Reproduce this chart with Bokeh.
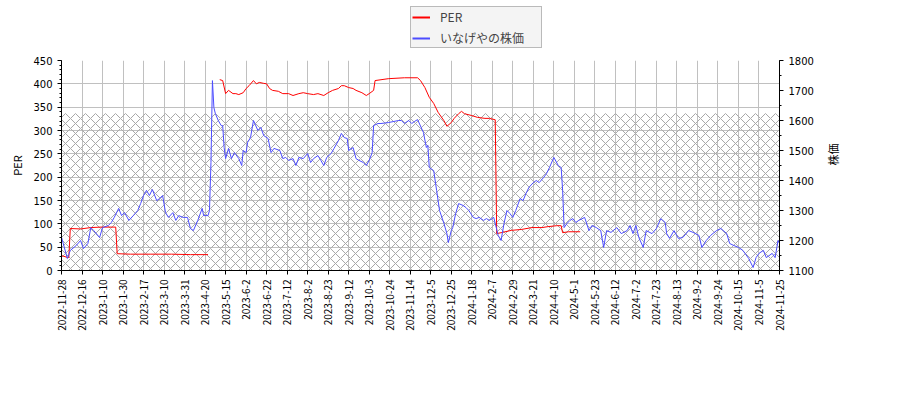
import numpy as np

from bokeh.embed import file_html
from bokeh.layouts import column
from bokeh.models import (FixedTicker, Legend, LegendItem, LinearAxis, Range1d,
                          SingleIntervalTicker)
from bokeh.plotting import figure
from bokeh.resources import INLINE

# x axis is a trading-day index, a label every 14 trading days
tick_labels = [
    "2022-11-28", "2022-12-16", "2023-1-10", "2023-1-30", "2023-2-17", "2023-3-10",
    "2023-3-31", "2023-4-20", "2023-5-15", "2023-6-2", "2023-6-22", "2023-7-12",
    "2023-8-2", "2023-8-23", "2023-9-12", "2023-10-3", "2023-10-24", "2023-11-14",
    "2023-12-5", "2023-12-25", "2024-1-18", "2024-2-7", "2024-2-29", "2024-3-21",
    "2024-4-10", "2024-5-1", "2024-5-23", "2024-6-12", "2024-7-2", "2024-7-23",
    "2024-8-13", "2024-9-2", "2024-9-24", "2024-10-15", "2024-11-5", "2024-11-25",
]
tick_step = 14

# stock price (right axis)
price_day = [
    0, 4, 6, 10, 13, 15, 18, 20, 22, 26, 28, 32, 34, 36, 39, 41, 43, 46, 49, 52,
    54, 56, 58, 60, 62, 65, 67, 69, 71, 73, 76, 78, 80, 83, 86, 88, 90, 93, 96, 97,
    100, 101, 102, 103, 104, 105, 107, 109, 110, 111, 112, 114, 116, 118, 121, 123, 124, 126, 127, 129,
    131, 134, 136, 138, 141, 143, 145, 149, 151, 153, 155, 158, 160, 162, 165, 168, 170, 172, 175, 177,
    179, 181, 184, 186, 189, 191, 193, 195, 196, 199, 201, 203, 206, 208, 210, 212, 213, 216, 218, 223,
    230, 232, 234, 237, 239, 241, 243, 247, 249, 250, 251, 254, 256, 258, 261, 263, 264, 266, 267, 269,
    271, 274, 276, 278, 281, 283, 285, 288, 290, 292, 295, 296, 298, 300, 302, 304, 306, 308, 310, 313,
    315, 317, 319, 322, 324, 326, 329, 331, 333, 336, 339, 341, 342, 343, 345, 347, 349, 351, 353, 357,
    360, 362, 365, 368, 370, 372, 375, 379, 382, 386, 388, 390, 392, 394, 397, 399, 403, 406, 409, 412,
    413, 415, 418, 421, 424, 428, 431, 435, 437, 440, 443, 447, 450, 454, 456, 459, 462, 465, 469, 472,
    474, 476, 479, 481, 485, 487, 489, 490,
]
price = [
    1211, 1140, 1167, 1183, 1200, 1173, 1190, 1243, 1233, 1210, 1243, 1250, 1260, 1277, 1307, 1283, 1293, 1267, 1283, 1300,
    1323, 1350, 1367, 1350, 1370, 1333, 1340, 1350, 1293, 1277, 1293, 1267, 1283, 1277, 1277, 1240, 1233, 1267, 1307, 1283,
    1283, 1300, 1460, 1733, 1643, 1623, 1600, 1583, 1583, 1510, 1473, 1507, 1473, 1493, 1473, 1450, 1500, 1493, 1527, 1543,
    1600, 1567, 1577, 1550, 1540, 1493, 1507, 1500, 1473, 1477, 1467, 1473, 1450, 1477, 1473, 1490, 1460, 1473, 1483, 1467,
    1450, 1477, 1490, 1507, 1533, 1557, 1543, 1540, 1500, 1510, 1473, 1467, 1460, 1450, 1467, 1493, 1583, 1590, 1590, 1593,
    1600, 1600, 1590, 1600, 1590, 1597, 1603, 1560, 1510, 1517, 1443, 1433, 1367, 1300, 1257, 1223, 1193, 1233, 1243, 1290,
    1323, 1317, 1310, 1300, 1277, 1273, 1277, 1267, 1273, 1267, 1277, 1257, 1217, 1200, 1257, 1300, 1290, 1277, 1300, 1340,
    1333, 1357, 1377, 1393, 1400, 1393, 1410, 1423, 1443, 1477, 1450, 1443, 1367, 1243, 1257, 1267, 1273, 1260, 1267, 1277,
    1233, 1250, 1243, 1233, 1177, 1233, 1227, 1243, 1223, 1233, 1250, 1223, 1250, 1210, 1177, 1233, 1223, 1240, 1273, 1260,
    1223, 1207, 1233, 1207, 1210, 1233, 1227, 1217, 1177, 1200, 1217, 1233, 1240, 1223, 1190, 1183, 1177, 1167, 1140, 1110,
    1143, 1157, 1167, 1143, 1157, 1143, 1200, 1190,
]

# PER (left axis), gap where no value is published
nan = float("nan")
per_day = [
    0, 4, 5, 6, 13, 20, 27, 37, 38, 47, 61, 75, 88, 100, 104,
    108, 110, 112, 114, 117, 119, 121, 124, 126, 128, 131, 133, 135, 138, 140,
    142, 144, 148, 151, 155, 158, 162, 165, 168, 172, 175, 179, 182, 185, 189,
    191, 193, 196, 199, 201, 205, 208, 210, 213, 214, 223, 234, 243, 245, 248,
    251, 254, 257, 261, 263, 266, 268, 271, 273, 275, 280, 284, 289, 292, 296,
    297, 300, 307, 314, 321, 328, 332, 338, 341, 342, 346, 354,
]
per = [
    32, 28, 28, 90, 89, 92, 93, 93, 36, 35, 35, 35, 34, 34, nan,
    409, 407, 379, 386, 379, 379, 377, 381, 390, 396, 407, 400, 403, 401, 400,
    390, 386, 384, 379, 379, 375, 379, 381, 379, 377, 379, 375, 381, 386, 390,
    396, 396, 392, 390, 386, 381, 375, 379, 386, 407, 411, 413, 413, 407, 392,
    371, 358, 339, 321, 309, 317, 326, 336, 341, 336, 332, 328, 326, 326, 323,
    79, 81, 86, 88, 92, 92, 94, 96, 96, 81, 83, 83,
]

hatch_top = 337

per_color = "red"
price_color = "#4c4cff"
last_day = tick_step * (len(tick_labels) - 1)

p = figure(width=884, height=336, output_backend="svg", toolbar_location=None,
           x_range=Range1d(0, last_day), y_range=Range1d(0, 450),
           min_border_left=61, min_border_right=105, min_border_top=12,
           min_border_bottom=114, outline_line_color=None,
           background_fill_color="white")
p.extra_y_ranges = {"price": Range1d(1100, 1800)}

# hatched band
p.quad(left=0, right=last_day, bottom=0, top=hatch_top, fill_color=None,
       line_color=None, hatch_pattern="diagonal_cross", hatch_color="#a8a8a8",
       hatch_scale=10, hatch_weight=1)

p.line(per_day, per, line_color=per_color, line_width=1)
p.line(price_day, price, line_color=price_color, line_width=1,
       y_range_name="price")

# axes
ticks = [i * tick_step for i in range(len(tick_labels))]
p.xaxis.ticker = FixedTicker(ticks=ticks)
p.xaxis.major_label_overrides = {t: lbl for t, lbl in zip(ticks, tick_labels)}
p.xaxis.major_label_orientation = np.pi / 2
p.xaxis.major_label_text_font = "Noto Sans CJK JP"
p.xaxis.major_label_text_font_size = "10px"

p.yaxis.ticker = SingleIntervalTicker(interval=50, num_minor_ticks=5)
p.yaxis.axis_label = "PER"

right = LinearAxis(y_range_name="price", axis_label="株価",
                   ticker=SingleIntervalTicker(interval=100, num_minor_ticks=2))
p.add_layout(right, "right")
right.axis_label_orientation = np.pi / 2
right.axis_label_standoff = 16

for ax in p.axis:
    ax.axis_line_color = "black"
    ax.major_tick_line_color = "black"
    ax.minor_tick_line_color = "black"
    ax.major_tick_in = 0
    ax.major_tick_out = 4
    ax.minor_tick_in = 0
    ax.minor_tick_out = 2
    ax.major_label_text_color = "black"
    ax.axis_label_text_font = "Noto Sans CJK JP"
    ax.axis_label_text_font_style = "normal"
    ax.axis_label_text_font_size = "11px"
    ax.axis_label_text_color = "black"
for ax in p.yaxis:
    ax.major_label_text_font = "DejaVu Sans"
    ax.major_label_text_font_size = "10px"
p.xaxis.minor_tick_line_color = None

p.xgrid.grid_line_color = "#c0c0c0"
p.ygrid.grid_line_color = "#c0c0c0"

# legend strip above the chart (its frame lines up with the chart's frame)
lg = figure(width=884, height=48, output_backend="svg", toolbar_location=None,
            x_axis_type=None, y_axis_type=None, min_border=0,
            outline_line_color=None, x_range=(0, 1), y_range=(0, 1))
lg.xgrid.visible = False
lg.ygrid.visible = False
k_per = lg.line([2, 3], [2, 3], line_color=per_color, line_width=2)
k_price = lg.line([2, 3], [2, 3], line_color=price_color, line_width=2)
legend = Legend(items=[LegendItem(label="PER", renderers=[k_per]),
                       LegendItem(label="いなげやの株価", renderers=[k_price])],
                location=(349, 0), orientation="vertical",
                label_text_font="Noto Sans CJK JP", label_text_font_size="12px",
                border_line_color="#808080", background_fill_color="#f4f4f4",
                background_fill_alpha=1, padding=1, spacing=4, margin=0,
                label_height=16, glyph_height=16, glyph_width=18,
                label_standoff=10, label_width=100)
lg.add_layout(legend)

open("out.html", "w").write(file_html(column(lg, p), INLINE))
